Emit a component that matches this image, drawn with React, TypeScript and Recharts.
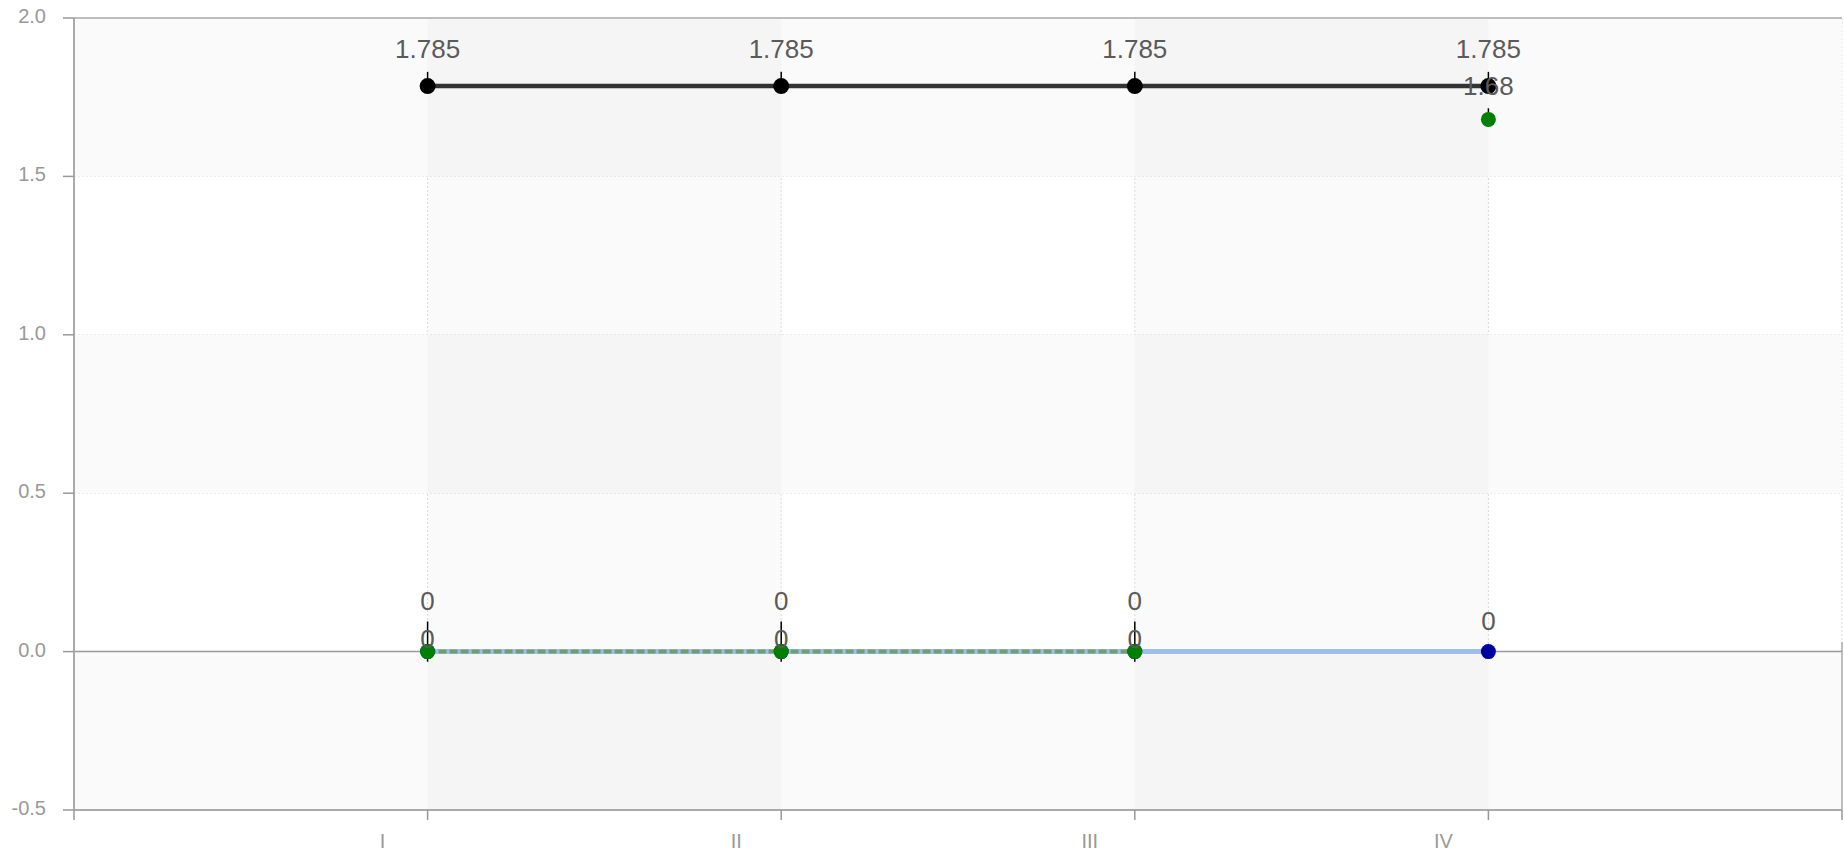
import React from 'react';
import { LineChart, Line, XAxis, YAxis, CartesianGrid, ReferenceArea, ReferenceLine, ErrorBar, LabelList } from 'recharts';

const categories = ['I', 'II', 'III', 'IV'];
const positions = [1, 2, 3, 4];
const blackValues = [1.785, 1.785, 1.785, 1.785];
const greenLineValues = [0, 0, 0, null];
const greenPointValues = [null, null, null, 1.68];
const blueValues = [0, 0, 0, 0];
// [below, above] error ranges
const blackErrors = [[0, 0.045], [0, 0.045], [0, 0.045], [0, 0.045]];
const greenErrors = [[0.032, 0.095], [0.032, 0.095], [0.032, 0.095], [0, 0.035]];
const blueErrors = [[0, 0], [0, 0], [0, 0], [0, 0.03]];
const yTicks = [-0.5, 0, 0.5, 1, 1.5, 2];
const xTicks = [0, 1, 2, 3, 4, 5];

const data = positions.map((x, i) => ({
  x,
  black: blackValues[i],
  greenLine: greenLineValues[i],
  greenPoint: greenPointValues[i],
  green: greenPointValues[i] ?? greenLineValues[i],
  blue: blueValues[i],
  blackErr: blackErrors[i],
  greenErr: greenErrors[i],
  blueErr: blueErrors[i],
}));

const FONT = 'Arial, "Liberation Sans", Helvetica, sans-serif';

const makeLabel = (lift: (index: number) => number) => (props: any) => {
  const { x, y, value, index } = props;
  if (value === null || value === undefined) return null;
  return (
    <text x={x} y={y - lift(index)} textAnchor="middle" fontSize={26} fontFamily={FONT} fill="#5a5a5a">
      {value}
    </text>
  );
};

const overlaps = (i: number) => greenLineValues[i] !== null && greenLineValues[i] === blueValues[i];

const dot = (fill: string, r: number) => (props: any) => {
  const { cx, cy, index, value } = props;
  if (value === null || value === undefined || cy == null) return <g key={index} />;
  return <circle key={index} cx={cx} cy={cy} r={r} fill={fill} />;
};

const XTick = (props: any) => {
  const { x, y, payload } = props;
  const label = categories[positions.indexOf(payload.value)];
  if (!label) return <g />;
  return (
    <text x={x - 45} y={y + 26} textAnchor="middle" fontSize={20} fontFamily={FONT} fill="#999">
      {label}
    </text>
  );
};

const YTick = (props: any) => {
  const { x, y, payload } = props;
  return (
    <text x={x} y={y + 5} textAnchor="end" fontSize={20} fontFamily={FONT} fill="#999">
      {payload.value.toFixed(1)}
    </text>
  );
};

export default function App() {
  return (
    <div style={{ position: 'absolute', left: 0, top: 0 }}>
      <LineChart width={1844} height={858} data={data} margin={{ top: 18, right: 2, bottom: 0, left: 0 }}>
        <ReferenceArea y1={1.5} y2={2} fill="#fafafa" fillOpacity={1} />
        <ReferenceArea y1={0.5} y2={1} fill="#fafafa" fillOpacity={1} />
        <ReferenceArea y1={-0.5} y2={0} fill="#fafafa" fillOpacity={1} />
        <ReferenceArea x1={1} x2={2} fill="#000" fillOpacity={0.02} />
        <ReferenceArea x1={3} x2={4} fill="#000" fillOpacity={0.02} />
        <CartesianGrid stroke="#dcdcdc" strokeDasharray="2 2" />
        <XAxis
          dataKey="x"
          type="number"
          domain={[0, 5]}
          ticks={xTicks}
          height={48}
          tickSize={10}
          tickLine={{ stroke: '#999', strokeWidth: 1.5 }}
          axisLine={{ stroke: '#aaa', strokeWidth: 2 }}
          tick={<XTick />}
          interval={0}
        />
        <YAxis
          type="number"
          domain={[-0.5, 2]}
          ticks={yTicks}
          width={74}
          tickSize={11}
          tickMargin={17}
          tickLine={{ stroke: '#999', strokeWidth: 1.5 }}
          axisLine={{ stroke: '#aaa', strokeWidth: 2 }}
          tick={<YTick />}
          interval={0}
          allowDataOverflow
        />
        <ReferenceLine y={2} stroke="#aaa" strokeWidth={1.5} />
        <ReferenceLine segment={[{ x: 5, y: 0.03 }, { x: 5, y: -0.5 }]} stroke="#aaa" strokeWidth={1.5} />
        <ReferenceLine y={0} stroke="#999" strokeWidth={1.5} />

        <Line
          dataKey="blue"
          stroke="#9dbfee"
          strokeWidth={5}
          dot={dot('#0000a0', 7.5)}
          activeDot={false}
          isAnimationActive={false}
        >
          <LabelList dataKey="blue" content={makeLabel((i) => (overlaps(i) ? 42 : 22))} />
        </Line>
        <Line
          dataKey="greenLine"
          stroke="#6f9f6f"
          strokeWidth={4}
          strokeDasharray="8 3"
          dot={dot('#008000', 7.5)}
          activeDot={false}
          isAnimationActive={false}
        >
          <LabelList dataKey="greenLine" content={makeLabel((i) => (overlaps(i) ? 4 : 22))} />
        </Line>
        <Line
          dataKey="greenPoint"
          stroke="none"
          dot={dot('#008000', 7.5)}
          activeDot={false}
          isAnimationActive={false}
        >
          <LabelList dataKey="greenPoint" content={makeLabel(() => 24)} />
        </Line>
        <Line
          dataKey="black"
          stroke="#333"
          strokeWidth={4.5}
          dot={dot('#000', 8)}
          activeDot={false}
          isAnimationActive={false}
        >
          <LabelList dataKey="black" content={makeLabel(() => 28)} />
        </Line>

        <Line dataKey="black" stroke="none" dot={false} activeDot={false} isAnimationActive={false} legendType="none">
          <ErrorBar dataKey="blackErr" direction="y" width={0} stroke="#000" strokeWidth={1.5} isAnimationActive={false} />
        </Line>
        <Line dataKey="green" stroke="none" dot={false} activeDot={false} isAnimationActive={false} legendType="none">
          <ErrorBar dataKey="greenErr" direction="y" width={0} stroke="#000" strokeWidth={1.5} isAnimationActive={false} />
        </Line>
        <Line dataKey="blue" stroke="none" dot={false} activeDot={false} isAnimationActive={false} legendType="none">
          <ErrorBar dataKey="blueErr" direction="y" width={0} stroke="#d8d8e8" strokeWidth={1.5} isAnimationActive={false} />
        </Line>
      </LineChart>
    </div>
  );
}
